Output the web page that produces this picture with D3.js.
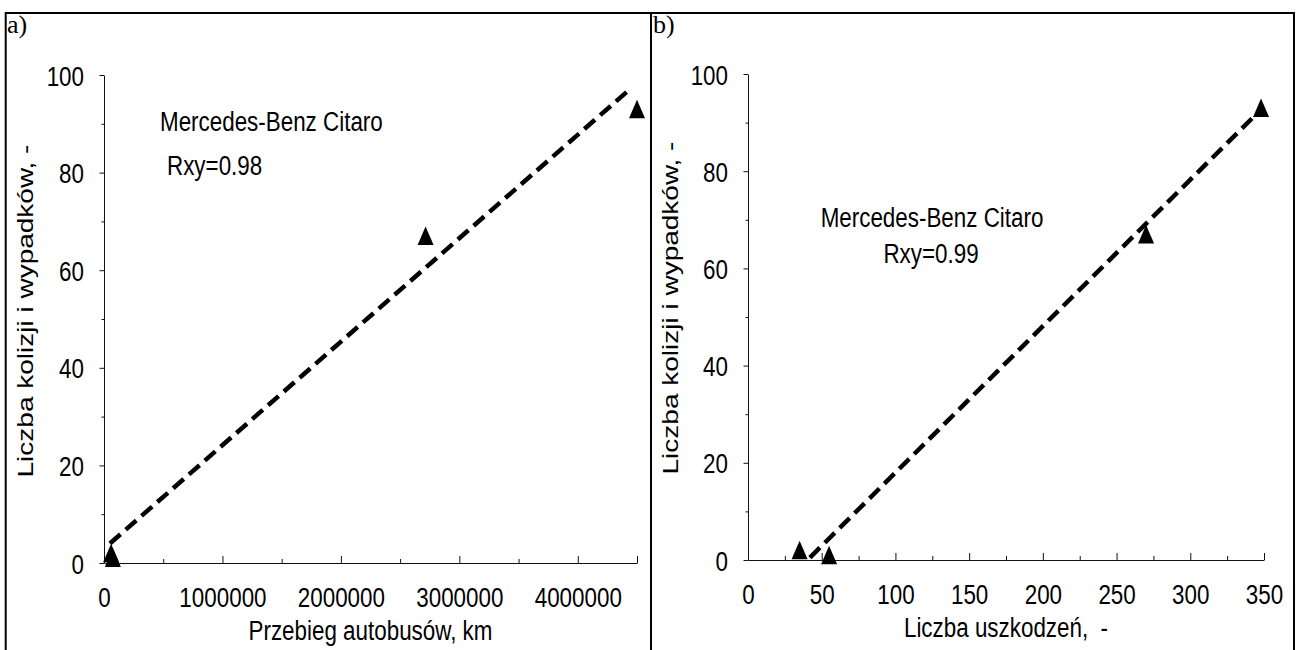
<!DOCTYPE html>
<html><head><meta charset="utf-8">
<script src="https://cdn.jsdelivr.net/npm/d3@7"></script>
<style>
body{margin:0;background:#fff}
svg{display:block}
text{font-family:"Liberation Sans",Arial,Helvetica,sans-serif;fill:#000}
</style>
</head><body>
<svg id="chart" width="1296" height="650"></svg>
<script>
// ---- data ----
const collisionsA = [2, 1, 67, 93];
const mileageKm = [60000, 75000, 2715000, 4500000];
const collisionsB = [2, 1, 67, 93];
const damages = [35, 55, 270, 348];

const trendMileageX = [50000, 4450000];
const trendMileageY = [4, 97.3];
const trendDamageX = [42, 343];
const trendDamageY = [0.5, 91.2];

const yTickValues = [0, 20, 40, 60, 80, 100];
const yMinorValues = [10, 30, 50, 70, 90];
const mileageTicks = [0, 1000000, 2000000, 3000000, 4000000];
const mileageMinor = [500000, 1500000, 2500000, 3500000];
const damageTicks = [0, 50, 100, 150, 200, 250, 300, 350];
const damageMinor = [25, 75, 125, 175, 225, 275, 325];

const yTitle = "Liczba kolizji i wypadków, -";
const xTitleA = "Przebieg autobusów, km";
const xTitleB = "Liczba uszkodzeń,  -";
const seriesName = "Mercedes-Benz Citaro";
const rxyA = "Rxy=0.98";
const rxyB = "Rxy=0.99";

// ---- drawing ----
const svg = d3.select("#chart");
svg.append("rect").attr("width",1296).attr("height",650).attr("fill","#fff");
const SX = 0.8; // horizontal compression of the original figure
const FS = 28;

function scaledText(g, str, x, y, anchor, size, sx, family) {
  return g.append("text")
    .attr("transform", `translate(${x},${y}) scale(${sx},1)`)
    .attr("text-anchor", anchor)
    .style("font-size", size + "px")
    .style("font-family", family || null)
    .attr("xml:space", "preserve")
    .text(str);
}

function drawPanel(cfg) {
  const g = svg.append("g");
  const x = d3.scaleLinear().domain(cfg.xDomain).range(cfg.xRange);
  const y = d3.scaleLinear().domain([0, 100]).range(cfg.yRange);
  const x0 = cfg.xRange[0], y0 = cfg.yRange[0];

  // y minor ticks
  g.append("g").attr("transform", `translate(${x0},0)`).attr("color", "#111")
    .call(d3.axisLeft(y).tickValues(yMinorValues).tickSize(2.5).tickSizeOuter(0).tickFormat(""))
    .call(s => s.select(".domain").remove());
  // y major axis
  const ya = g.append("g").attr("transform", `translate(${x0},0)`).attr("color", "#111")
    .call(d3.axisLeft(y).tickValues(yTickValues).tickSize(4.5).tickSizeOuter(0).tickFormat(d3.format("d")));
  ya.selectAll("text").attr("x", -20 / SX).attr("dy", "0.36em")
    .attr("transform", `scale(${SX},1)`).style("font-size", FS + "px").style("fill", "#000");

  // x minor ticks
  g.append("g").attr("transform", `translate(0,${y0})`).attr("color", "#111")
    .call(d3.axisBottom(x).tickValues(cfg.xMinor).tickSize(-4).tickSizeOuter(0).tickFormat(""))
    .call(s => s.select(".domain").remove());
  if (cfg.endTick) {
    g.append("g").attr("transform", `translate(0,${y0})`).attr("color", "#111")
      .call(d3.axisBottom(x).tickValues([cfg.xDomain[1]]).tickSize(-7).tickSizeOuter(0).tickFormat(""))
      .call(s => s.select(".domain").remove());
  }
  // x major axis
  const xa = g.append("g").attr("transform", `translate(0,${y0})`).attr("color", "#111")
    .call(d3.axisBottom(x).tickValues(cfg.xTicks).tickSize(-7).tickSizeOuter(0).tickPadding(24).tickFormat(d3.format("d")));
  xa.selectAll("text").attr("transform", `scale(${SX},1)`).style("font-size", FS + "px").style("fill", "#000");

  // trend line
  const pts = cfg.trendX.map((v, i) => [v, cfg.trendY[i]]);
  g.append("path").datum(pts)
    .attr("d", d3.line().x(d => x(d[0])).y(d => y(d[1])))
    .attr("fill", "none").attr("stroke", "#000").attr("stroke-width", 4.5)
    .attr("stroke-dasharray", "14,7");

  // markers
  const data = cfg.xs.map((v, i) => ({x: v, y: cfg.ys[i]}));
  g.selectAll("path.mk").data(data).join("path").attr("class", "mk")
    .attr("d", "M0,-9.5L8,9L-8,9Z")
    .attr("transform", d => `translate(${x(d.x)},${y(d.y)})`)
    .attr("fill", "#000");

  // titles
  g.append("text")
    .attr("transform", `translate(${cfg.yTitleX},${cfg.yTitleY}) rotate(-90) scale(1,${SX})`)
    .attr("text-anchor", "middle").style("font-size", FS + "px")
    .attr("xml:space", "preserve").text(yTitle);
  scaledText(g, cfg.xTitle, (cfg.xRange[0] + cfg.xRange[1]) / 2, cfg.xTitleY, "middle", FS, SX);

  // annotations
  scaledText(g, seriesName, cfg.ann1[0], cfg.ann1[1], cfg.annAnchor, FS, SX);
  scaledText(g, cfg.rxy, cfg.ann2[0], cfg.ann2[1], cfg.annAnchor, FS, SX);

  // panel label
  scaledText(g, cfg.label, cfg.labelX, 33, "start", 26, 1, '"Liberation Serif","Times New Roman",serif');
}

drawPanel({
  xDomain: [0, 4500000], xRange: [104, 637], yRange: [563, 75],
  xTicks: mileageTicks, xMinor: mileageMinor, endTick: true,
  xs: mileageKm, ys: collisionsA,
  trendX: trendMileageX, trendY: trendMileageY,
  xTitle: xTitleA, xTitleY: 640,
  yTitleX: 33, yTitleY: 311,
  ann1: [160, 131], ann2: [167, 175], annAnchor: "start", rxy: rxyA,
  label: "a)", labelX: 7
});
drawPanel({
  xDomain: [0, 350], xRange: [748, 1264], yRange: [560, 74],
  xTicks: damageTicks, xMinor: damageMinor, endTick: false,
  xs: damages, ys: collisionsB,
  trendX: trendDamageX, trendY: trendDamageY,
  xTitle: xTitleB, xTitleY: 637,
  yTitleX: 678, yTitleY: 308,
  ann1: [932, 227], ann2: [931, 263], annAnchor: "middle", rxy: rxyB,
  label: "b)", labelX: 653
});

// frame
const frame = svg.append("g").attr("stroke", "#000").attr("stroke-width", 2);
frame.append("line").attr("x1", 5).attr("x2", 1295).attr("y1", 13).attr("y2", 13);
frame.append("line").attr("x1", 5.7).attr("x2", 5.7).attr("y1", 12).attr("y2", 650);
frame.append("line").attr("x1", 651).attr("x2", 651).attr("y1", 12).attr("y2", 650);
frame.append("line").attr("x1", 1294).attr("x2", 1294).attr("y1", 12).attr("y2", 650);
</script>
</body></html>
